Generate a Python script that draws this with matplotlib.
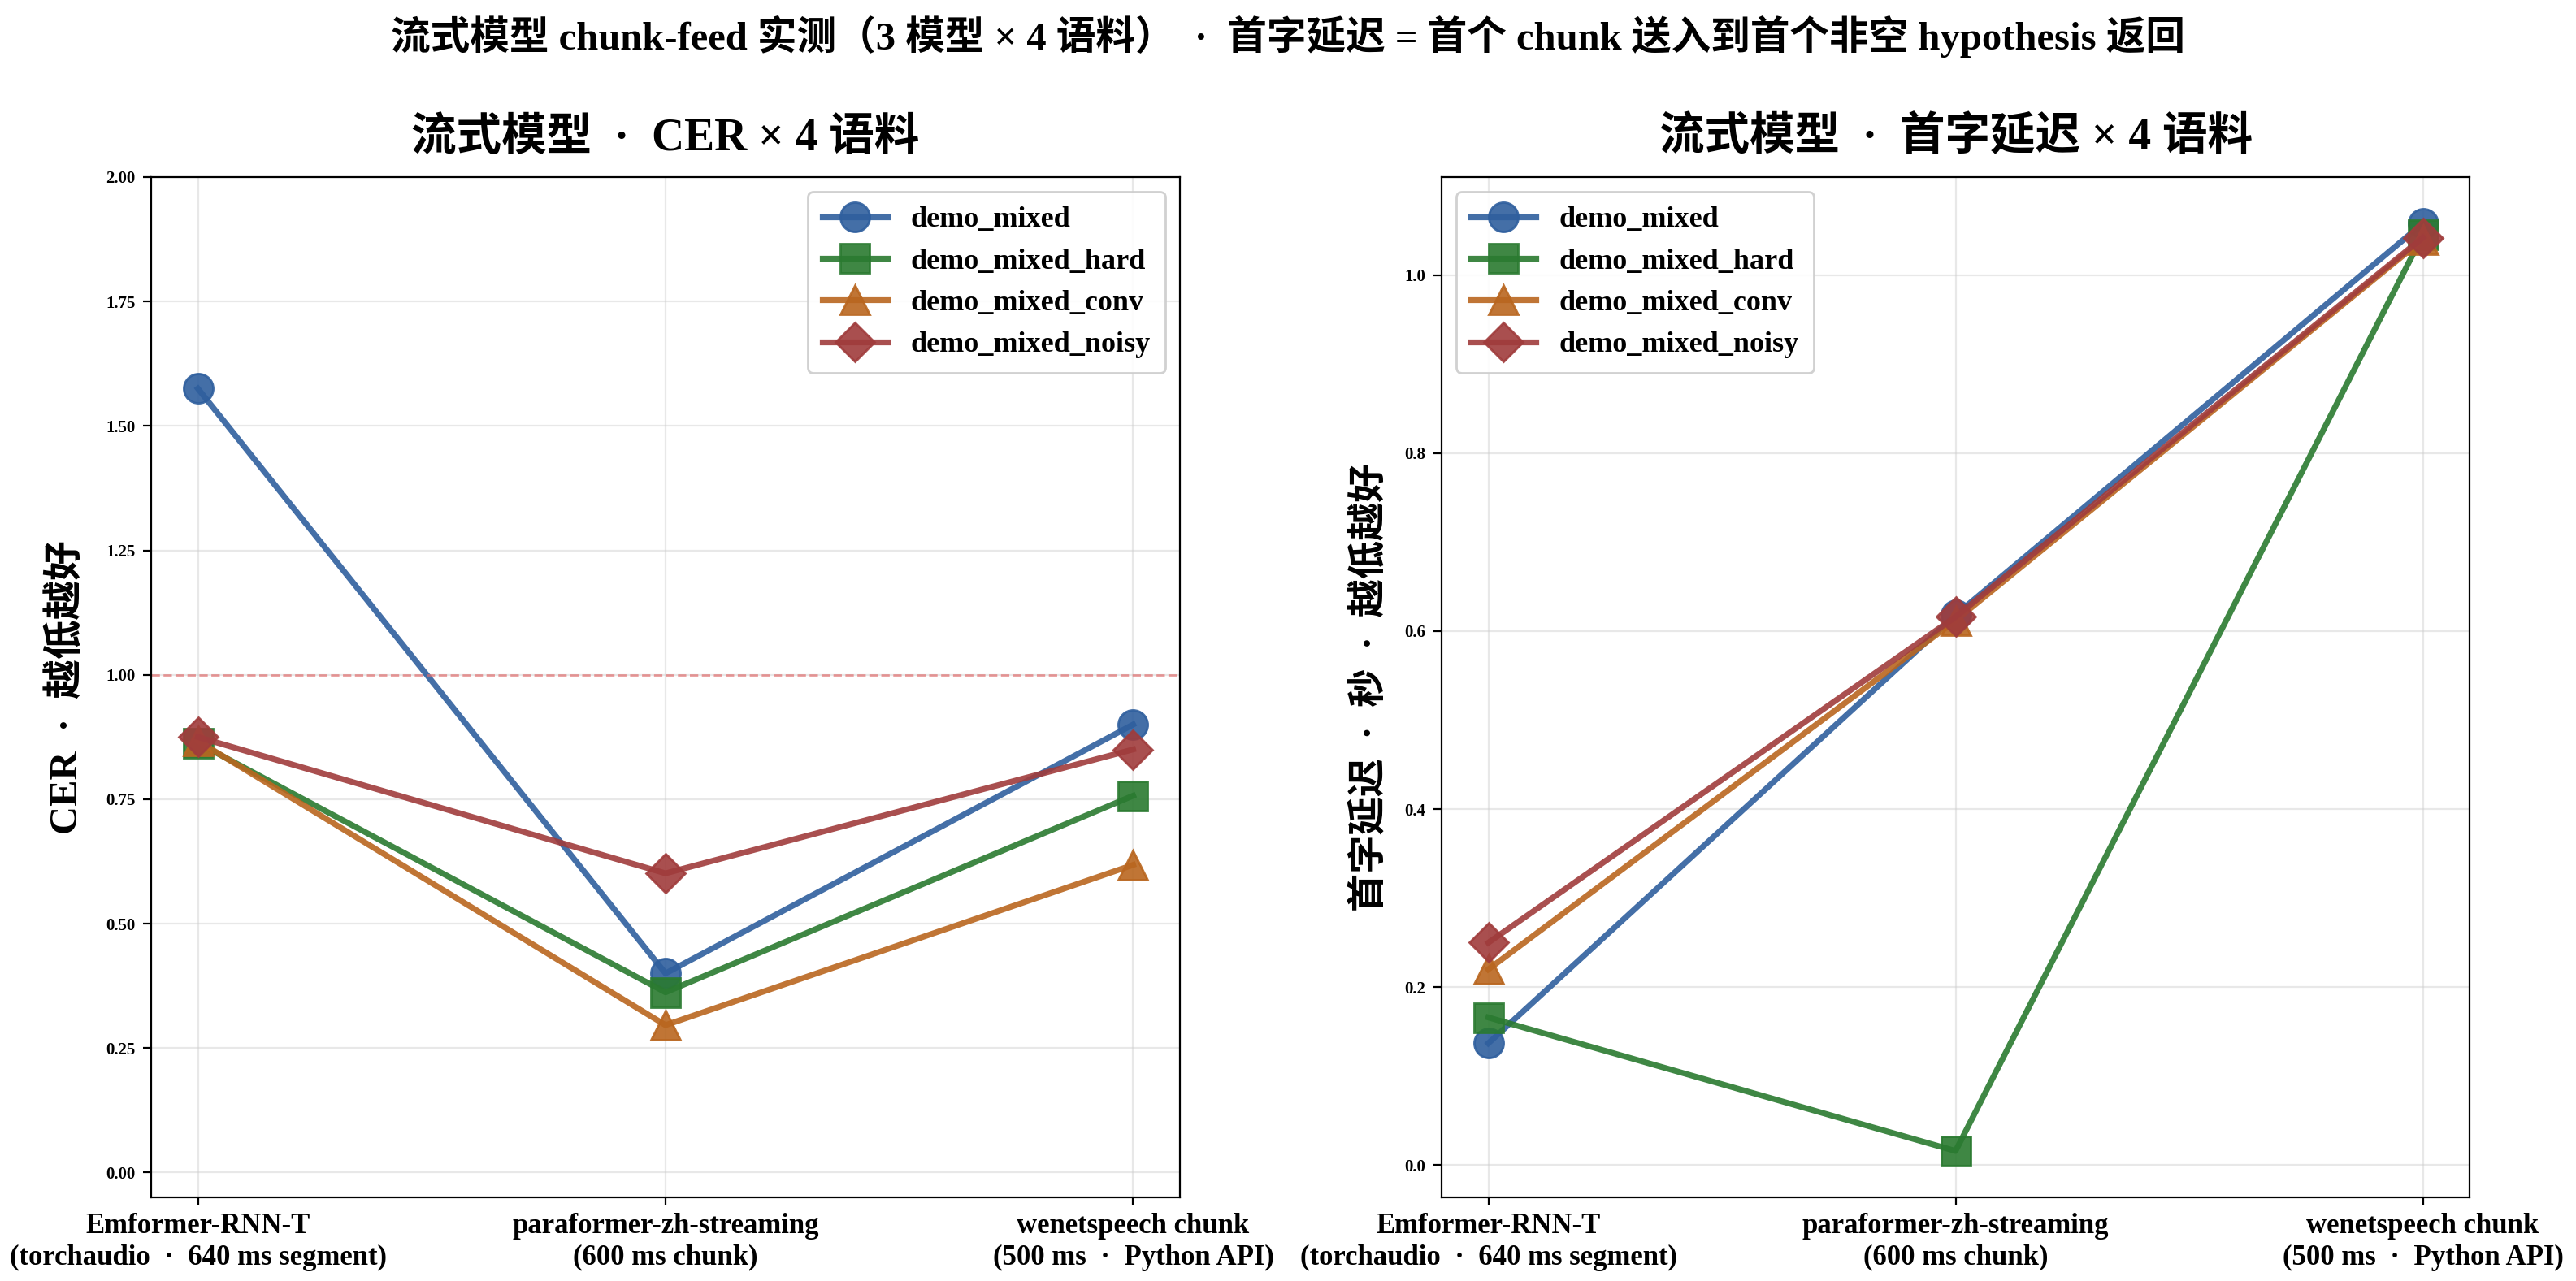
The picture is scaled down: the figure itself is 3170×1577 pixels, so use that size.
import matplotlib
matplotlib.use("Agg")
import matplotlib.pyplot as plt
import numpy as np

plt.rcParams['font.family'] = ['Liberation Serif', 'Noto Sans CJK SC', 'DejaVu Sans']
plt.rcParams['font.weight'] = 'bold'

models = ["Emformer-RNN-T\n(torchaudio  ·  640 ms segment)",
          "paraformer-zh-streaming\n(600 ms chunk)",
          "wenetspeech chunk\n(500 ms  ·  Python API)"]
corpora = ["demo_mixed", "demo_mixed_hard", "demo_mixed_conv", "demo_mixed_noisy"]

cer_mixed = [1.575, 0.400, 0.900]
cer_hard = [0.863, 0.362, 0.757]
cer_conv = [0.867, 0.296, 0.618]
cer_noisy = [0.875, 0.601, 0.850]

lat_mixed = [0.137, 0.618, 1.058]
lat_hard = [0.166, 0.016, 1.045]
lat_conv = [0.220, 0.612, 1.040]
lat_noisy = [0.250, 0.616, 1.042]

colors = ['#2f5f9e', '#2a7a30', '#b9661f', '#a03c3c']
markers = ['o', 's', '^', 'D']

W, H = 3170, 1577
fig = plt.figure(figsize=(W / 200, H / 200), dpi=200)
ax1 = fig.add_axes([186 / W, 1 - 1474 / H, (1452 - 186) / W, (1474 - 218) / H])
ax2 = fig.add_axes([1774 / W, 1 - 1474 / H, (3039 - 1774) / W, (1474 - 218) / H])

x = np.arange(len(models))

def draw(ax, series):
    for name, vals, c, m in zip(corpora, series, colors, markers):
        ms = 13 if m != 'D' else 12
        ax.plot(x, vals, color=c, marker=m, markersize=ms, linewidth=2.6,
                alpha=0.9, label=name)
    ax.set_xticks(x)
    ax.set_xticklabels(models, fontsize=12.5, fontweight='bold')
    ax.set_xlim(-0.1, 2.1)
    ax.grid(True, color='#cccccc', alpha=0.45, linewidth=0.8)
    ax.set_axisbelow(True)
    ax.tick_params(axis='y', labelsize=7)

draw(ax1, [cer_mixed, cer_hard, cer_conv, cer_noisy])
ax1.axhline(1.0, color='#e07070', linestyle='--', linewidth=1.0, alpha=0.7)
ax1.set_ylim(-0.05, 2.0)
ax1.set_yticks(np.arange(0, 2.01, 0.25))
ax1.set_yticklabels([f"{v:.2f}" for v in np.arange(0, 2.01, 0.25)], fontsize=7.5, fontweight='bold')
ax1.set_title("流式模型  ·  CER × 4 语料", fontsize=20, fontweight='bold', pad=12)
ax1.set_ylabel("CER  ·  越低越好", fontsize=17.5, fontweight='bold', labelpad=9)
ax1.legend(loc='upper right', prop={'weight': 'bold', 'size': 13},
           framealpha=0.9, borderpad=0.5, handlelength=2.2)

draw(ax2, [lat_mixed, lat_hard, lat_conv, lat_noisy])
ax2.set_yticks(np.arange(0, 1.01, 0.2))
ax2.set_yticklabels([f"{v:.1f}" for v in np.arange(0, 1.01, 0.2)], fontsize=7.5, fontweight='bold')
ax2.set_title("流式模型  ·  首字延迟 × 4 语料", fontsize=20, fontweight='bold', pad=12)
ax2.set_ylabel("首字延迟  ·  秒  ·  越低越好", fontsize=17, fontweight='bold', labelpad=7)
ax2.legend(loc='upper left', prop={'weight': 'bold', 'size': 13},
           framealpha=0.9, borderpad=0.5, handlelength=2.2)

fig.suptitle("流式模型 chunk-feed 实测（3 模型 × 4 语料）  ·  首字延迟 = 首个 chunk 送入到首个非空 hypothesis 返回",
             fontsize=17.5, fontweight='bold', y=0.988)

fig.savefig("out.png", dpi=200)
